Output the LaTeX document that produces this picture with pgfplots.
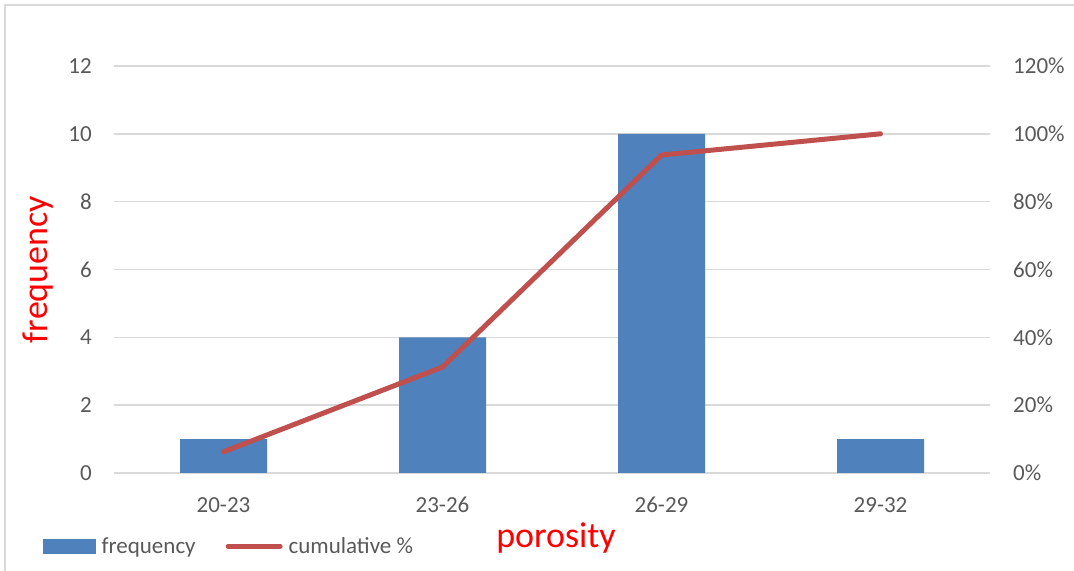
\documentclass[border=0pt]{standalone}
\usepackage{pgfplots}
\pgfplotsset{compat=1.18}
\usepackage{fontspec}
\setmainfont{Carlito}

\definecolor{barblue}{HTML}{4F81BD}
\definecolor{linered}{HTML}{C0504D}
\definecolor{ticktext}{HTML}{595959}
\definecolor{gridgray}{HTML}{D9D9D9}
\definecolor{labelred}{HTML}{FF0000}

\pgfplotsset{
  histbase/.style={
    at={(0,0)}, anchor=south west,
    scale only axis, width=876bp, height=407bp,
    xmin=-0.5, xmax=3.5,
    axis line style={draw=none},
    major tick length=0pt,
    tick label style={font=\fontsize{23bp}{27bp}\selectfont, text=ticktext,
      inner sep=0pt},
    /pgf/number format/assume math mode=true,
  }
}

\begin{document}
\begin{tikzpicture}[x=1bp,y=1bp]
\useasboundingbox (-114,-98) rectangle (960,473);
% outer chart frame
\draw[gridgray, line width=1.6bp] (-109,-120) -- (-109,468) -- (990,468);

% frequency bars (left axis)
\begin{axis}[histbase,
  ymin=0, ymax=12, ytick={0,2,...,12},
  ymajorgrids,
  major grid style={gridgray, line width=1.6bp},
  xtick={0,1,2,3},
  xticklabels={20-23,23-26,26-29,29-32},
  xticklabel style={anchor=north, yshift=-24bp},
  yticklabel style={anchor=east, xshift=-22bp},
  ylabel={frequency},
  ylabel style={at={(axis description cs:-0.0868,0.5)}, anchor=center,
    font=\fontsize{36bp}{40bp}\selectfont, text=labelred},
  xlabel={porosity},
  xlabel style={at={(axis description cs:0.5046,-0.160)}, anchor=center,
    font=\fontsize{36bp}{40bp}\selectfont, text=labelred},
]
\addplot[ybar, bar width=87bp, fill=barblue, draw=none] coordinates {
  (0,1) (1,4) (2,10) (3,1)
};
\end{axis}

% cumulative percentage line (right axis)
\begin{axis}[histbase,
  ymin=0, ymax=1.2,
  xtick=\empty,
  ytick pos=right, yticklabel pos=right,
  ytick={0,0.2,0.4,0.6,0.8,1.0,1.2},
  yticklabels={0\%,20\%,40\%,60\%,80\%,100\%,120\%},
  yticklabel style={anchor=west, xshift=23bp},
  legend style={at={(axis description cs:-0.081,-0.180)}, anchor=west,
    draw=none, fill=none, inner sep=0pt,
    font=\fontsize{23bp}{26bp}\selectfont, text=ticktext,
    /tikz/every odd column/.append style={column sep=4bp},
    /tikz/every even column/.append style={column sep=28bp},
    nodes={inner sep=2bp}},
  legend columns=2,
]
\addlegendimage{legend image code/.code={
  \fill[barblue] (0bp,-7bp) rectangle (52bp,7bp);}}
\addlegendentry{frequency}
\addplot[linered, line width=5bp, line cap=round, line join=round,
  legend image code/.code={
    \draw[linered, line width=5bp, line cap=round] (2bp,0bp) -- (54bp,0bp);}]
  coordinates {
  (0,0.0625) (1,0.3125) (2,0.9375) (3,1.0)
};
\addlegendentry{cumulative \%}
\end{axis}
\end{tikzpicture}
\end{document}
